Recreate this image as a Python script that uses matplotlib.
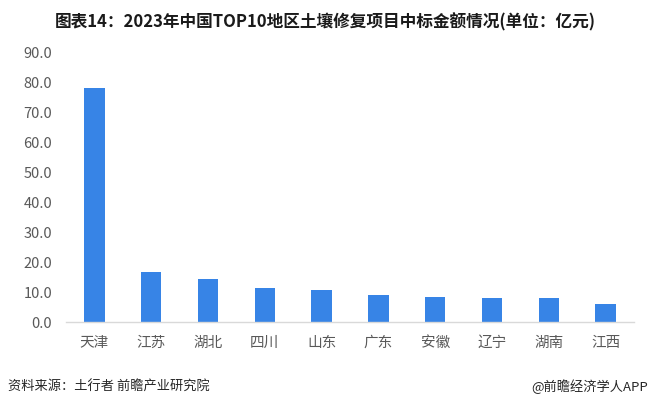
import matplotlib
matplotlib.use("Agg")
import matplotlib.pyplot as plt

plt.rcParams['font.family'] = ['Noto Sans CJK SC', 'DejaVu Sans']

regions = ["天津", "江苏", "湖北", "四川", "山东", "广东", "安徽", "辽宁", "湖南", "江西"]
values = [78.4, 16.8, 14.5, 11.5, 10.8, 9.0, 8.4, 8.0, 8.0, 6.0]
yticks = [0, 10, 20, 30, 40, 50, 60, 70, 80, 90]

W, H = 650, 408
fig = plt.figure(figsize=(W/100, H/100), dpi=100)
ax = fig.add_axes([66/W, (H-322)/H, (634-66)/W, (322-53)/H])

ax.bar(range(len(regions)), values, width=0.36, color="#3784E6", zorder=2)
ax.set_xlim(-0.5, len(regions)-0.5)
ax.set_ylim(0, 90)
ax.set_yticks(yticks)
ax.set_yticklabels([f"{v:.1f}" for v in yticks])
ax.set_xticks(range(len(regions)))
ax.set_xticklabels(regions)

for s in ["top", "right", "left"]:
    ax.spines[s].set_visible(False)
ax.spines["bottom"].set_color("#D9D9D9")
ax.spines["bottom"].set_linewidth(1.0)
ax.tick_params(axis="both", length=0, colors="#595959", labelsize=10.5)
ax.tick_params(axis="x", pad=10)
ax.tick_params(axis="y", pad=10)

fig.text(325/W, 1-22/H, "图表14：2023年中国TOP10地区土壤修复项目中标金额情况(单位：亿元)",
         ha="center", va="center", fontsize=12, fontweight="bold", color="#1a1a1a")
fig.text(8/W, 1-387/H, "资料来源：土行者 前瞻产业研究院", ha="left", va="center",
         fontsize=9.5, color="#262626")
fig.text(648/W, 1-387/H, "@前瞻经济学人APP", ha="right", va="center",
         fontsize=9.5, color="#262626")

fig.savefig("out.png", dpi=100)
